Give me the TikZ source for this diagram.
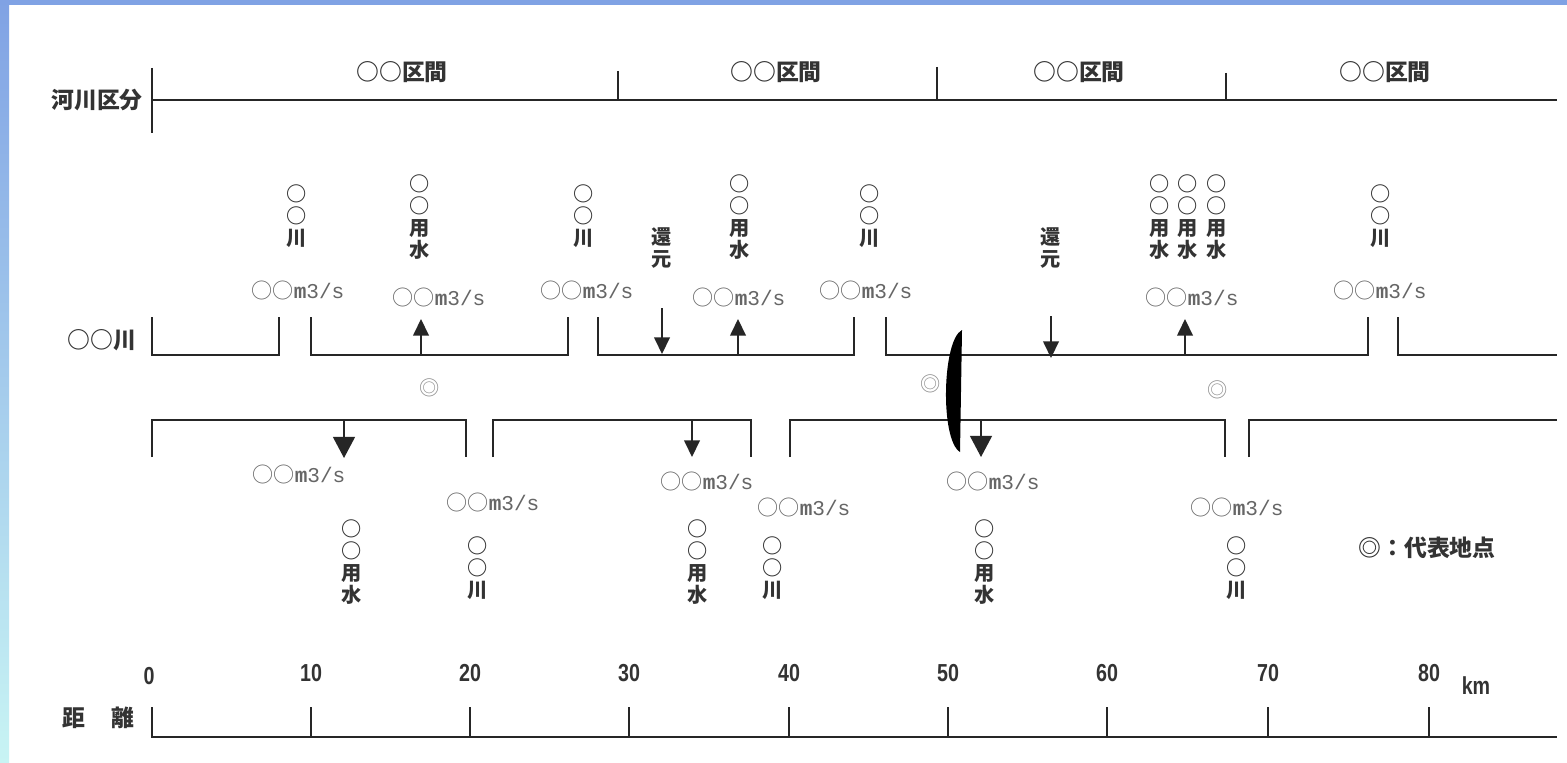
\documentclass[tikz,border=0pt]{standalone}
\usepackage{fontspec}
\usepackage{tikz}
\usetikzlibrary{arrows.meta}
\newfontfamily\jpfont{Noto Sans CJK JP}
\newfontfamily\unitfont{Liberation Mono}
\newfontfamily\numfont[FakeStretch=0.8]{Liberation Sans}
\definecolor{frameblue}{RGB}{128,162,228}
\definecolor{framecyan}{RGB}{200,244,244}
\newcommand{\qv}{○○{\unitfont\textbf{m}3/s}}

\begin{document}
\begin{tikzpicture}[x=0.02cm, y=-0.02cm,
  every node/.style={inner sep=0pt, text=black!80, font=\jpfont\fontsize{11.5}{12.5}\selectfont},
  bank/.style={draw=black!85, line width=1.1pt},
  stack/.style={align=center, font=\jpfont\bfseries\fontsize{11.5}{12.5}\selectfont},
  big/.style={font=\jpfont\bfseries\fontsize{13}{15}\selectfont},
  qlab/.style={text=black!60, font=\jpfont\fontsize{12}{14}\selectfont},
  num/.style={font=\numfont\bfseries\fontsize{14}{16}\selectfont},
  rep/.style={text=black!45},
  arr/.style={draw=black!85, line width=0.8pt, -{Triangle[width=9pt,length=9.5pt]}},
  bigarr/.style={draw=black!85, line width=0.8pt, -{Triangle[width=12.5pt,length=12pt]}}]
\useasboundingbox (0,0) rectangle (1567,763);
\fill[white] (0,0) rectangle (1567,763);
\shade[top color=frameblue, bottom color=framecyan] (0,0) rectangle (9,763);
\fill[frameblue] (0,0) rectangle (1567,5);

\draw[bank] (152,68) -- (152,133); \draw[bank] (152,100) -- (1557,100);
\draw[bank] (618,71) -- (618,100); \draw[bank] (937,67) -- (937,100); \draw[bank] (1226,73) -- (1226,100);
\node[big] (kubun) at (97,100) {河川区分};
\node[big] (sec1) at (402,72) {○○区間};
\node[big] (sec2) at (776,72) {○○区間};
\node[big] (sec3) at (1079,72) {○○区間};
\node[big] (sec4) at (1385,72) {○○区間};

\node[big] (river) at (102,340) {○○川};
\draw[bank] (152,317) |- (279,355) -- (279,317);
\draw[bank] (311,317) |- (568,355) -- (568,317);
\draw[bank] (598,317) |- (854,355) -- (854,317);
\draw[bank] (886,317) |- (1368,355) -- (1368,317);
\draw[bank] (1398,317) |- (1557,355);
\draw[bank] (152,457) |- (466,420) -- (466,457);
\draw[bank] (493,457) |- (751,420) -- (751,457);
\draw[bank] (790,457) |- (1225,420) -- (1225,457);
\draw[bank] (1249,457) |- (1557,420);
\fill[black] (962,330) .. controls (942,340) and (940,440) .. (960,452) -- cycle;

\node[stack] (u1) at (297,216) {○\\○\\川};
\node[stack] (u2) at (420,217) {○\\○\\用\\水};
\node[stack] (u3) at (584,216) {○\\○\\川};
\node[stack] (r1) at (662,248) {還\\元};
\node[stack] (u4) at (740,217) {○\\○\\用\\水};
\node[stack] (u5) at (870,216) {○\\○\\川};
\node[stack] (r2) at (1051,248) {還\\元};
\node[stack] (u6) at (1160,217) {○\\○\\用\\水};
\node[stack] (u7) at (1188,217) {○\\○\\用\\水};
\node[stack] (u8) at (1217,217) {○\\○\\用\\水};
\node[stack] (u9) at (1381,216) {○\\○\\川};
\node[qlab] (q1) at (298,290) {\qv};
\node[qlab] (q2) at (439,297) {\qv};
\node[qlab] (q3) at (587,290) {\qv};
\node[qlab] (q4) at (739,297) {\qv};
\node[qlab] (q5) at (866,290) {\qv};
\node[qlab] (q6) at (1192,297) {\qv};
\node[qlab] (q7) at (1380,290) {\qv};

\coordinate (w1) at (421,355); \coordinate (w1t) at (421,319); \draw[arr] (w1) -- (w1t);
\coordinate (w2) at (738,355); \coordinate (w2t) at (738,319); \draw[arr] (w2) -- (w2t);
\coordinate (w3) at (1185,355); \coordinate (w3t) at (1185,319); \draw[arr] (w3) -- (w3t);
\coordinate (b1) at (662,308); \coordinate (b1t) at (662,354); \draw[arr] (b1) -- (b1t);
\coordinate (b2) at (1051,316); \coordinate (b2t) at (1051,358); \draw[arr] (b2) -- (b2t);
\coordinate (d1) at (344,420); \coordinate (d1t) at (344,458); \draw[bigarr] (d1) -- (d1t);
\coordinate (d2) at (692,420); \coordinate (d2t) at (692,457); \draw[arr] (d2) -- (d2t);
\coordinate (d3) at (981,420); \coordinate (d3t) at (981,457); \draw[bigarr] (d3) -- (d3t);

\node[rep] (pt1) at (430,388) {◎};
\node[rep] (pt2) at (931,384) {◎};
\node[rep] (pt3) at (1218,390) {◎};

\node[qlab] (g1) at (299,474) {\qv};
\node[qlab] (g2) at (493,502) {\qv};
\node[qlab] (g3) at (707,481) {\qv};
\node[qlab] (g4) at (804,507) {\qv};
\node[qlab] (g5) at (993,481) {\qv};
\node[qlab] (g6) at (1237,507) {\qv};
\node[stack] (l1) at (352,562) {○\\○\\用\\水};
\node[stack] (l2) at (478,568) {○\\○\\川};
\node[stack] (l3) at (698,562) {○\\○\\用\\水};
\node[stack] (l4) at (773,568) {○\\○\\川};
\node[stack] (l5) at (985,562) {○\\○\\用\\水};
\node[stack] (l6) at (1237,568) {○\\○\\川};
\node[big] (leg) at (1427,548) {◎：代表地点};

\draw[bank] (152,707) |- (1557,737);
\draw[bank] (311,707) -- (311,737); \draw[bank] (470,707) -- (470,737); \draw[bank] (629,707) -- (629,737);
\draw[bank] (789,707) -- (789,737); \draw[bank] (948,707) -- (948,737); \draw[bank] (1107,707) -- (1107,737);
\draw[bank] (1268,707) -- (1268,737); \draw[bank] (1429,707) -- (1429,737);
\node[num] (k0) at (149,676) {0};
\node[num] (k1) at (311,673) {10};
\node[num] (k2) at (470,673) {20};
\node[num] (k3) at (629,673) {30};
\node[num] (k4) at (789,673) {40};
\node[num] (k5) at (948,673) {50};
\node[num] (k6) at (1107,673) {60};
\node[num] (k7) at (1268,673) {70};
\node[num] (k8) at (1429,673) {80};
\node[num] (unit) at (1476,686) {km};
\node[big] (dist1) at (74,718) {距};
\node[big] (dist2) at (123,718) {離};
\end{tikzpicture}
\end{document}
